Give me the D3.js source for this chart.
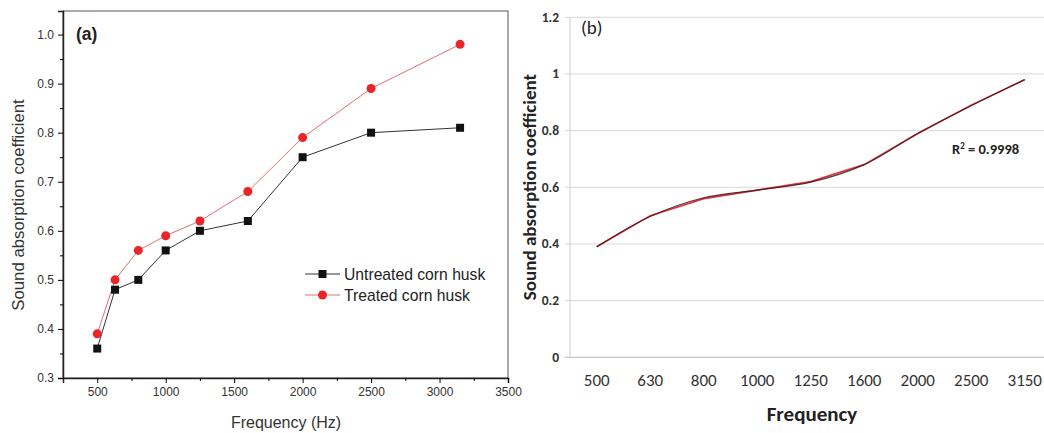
<!DOCTYPE html>
<html>
<head>
<meta charset="utf-8">
<script src="https://cdn.jsdelivr.net/npm/d3@7"></script>
<style>
  body { margin: 0; background: #fff; }
  svg { display: block; }
</style>
</head>
<body>
<svg id="chart" width="1044" height="433"></svg>
<script>
// data
const freqs = [500, 630, 800, 1000, 1250, 1600, 2000, 2500, 3150];
const untreated = [0.36, 0.48, 0.50, 0.56, 0.60, 0.62, 0.75, 0.80, 0.81];
const treated = [0.39, 0.50, 0.56, 0.59, 0.62, 0.68, 0.79, 0.89, 0.98];
const fitted = [0.39, 0.497, 0.563, 0.59, 0.618, 0.68, 0.79, 0.888, 0.98];
const xTicksA = [500, 1000, 1500, 2000, 2500, 3000, 3500];
const yTicksA = [0.3, 0.4, 0.5, 0.6, 0.7, 0.8, 0.9, 1.0];
const yTicksB = [0, 0.2, 0.4, 0.6, 0.8, 1, 1.2];
const legendNames = ["Untreated corn husk", "Treated corn husk"];

const svg = d3.select("#chart");

// ---------- panel (a) ----------
const a = {left: 63, right: 508, top: 11, bottom: 378};
const xA = d3.scaleLinear().domain([250, 3500]).range([a.left, a.right]);
const yA = d3.scaleLinear().domain([0.3, 1.048]).range([a.bottom, a.top]);
const gA = svg.append("g").attr("font-family", "Arial, 'Liberation Sans', sans-serif");

// frame
gA.append("rect")
  .attr("x", a.left).attr("y", a.top)
  .attr("width", a.right - a.left).attr("height", a.bottom - a.top)
  .attr("fill", "none").attr("stroke", "#555").attr("stroke-width", 1);

const xAxisA = d3.axisBottom(xA).tickValues(xTicksA).tickSize(5).tickPadding(4).tickFormat(d3.format("d"));
gA.append("g").attr("transform", `translate(0,${a.bottom})`).call(xAxisA)
  .call(g => g.select(".domain").attr("stroke", "#222").attr("stroke-width", 1.5))
  .call(g => g.selectAll("text").attr("font-size", 12).attr("fill", "#333").attr("font-family", null));
gA.append("g").attr("transform", `translate(0,${a.bottom})`)
  .call(d3.axisBottom(xA).tickValues(d3.range(750, 3500, 500)).tickSize(3).tickFormat(""))
  .call(g => g.select(".domain").remove());

const yAxisA = d3.axisLeft(yA).tickValues(yTicksA).tickSize(5).tickPadding(4).tickFormat(d3.format(".1f"));
gA.append("g").attr("transform", `translate(${a.left},0)`).call(yAxisA)
  .call(g => g.select(".domain").attr("stroke", "#222").attr("stroke-width", 1.5))
  .call(g => g.selectAll("text").attr("font-size", 12).attr("fill", "#333").attr("font-family", null));
gA.append("g").attr("transform", `translate(${a.left},0)`)
  .call(d3.axisLeft(yA).tickValues(d3.range(0.35, 1.04, 0.1)).tickSize(3).tickFormat(""))
  .call(g => g.select(".domain").remove());

const lineA = (vals) => d3.line().x((d, i) => xA(freqs[i])).y(d => yA(d))(vals);
gA.append("path").attr("d", lineA(untreated)).attr("fill", "none").attr("stroke", "#333").attr("stroke-width", 1);
gA.append("path").attr("d", lineA(treated)).attr("fill", "none").attr("stroke", "#e07070").attr("stroke-width", 1);

gA.selectAll(".sq").data(untreated).enter().append("rect")
  .attr("x", (d, i) => xA(freqs[i]) - 4).attr("y", d => yA(d) - 4)
  .attr("width", 8).attr("height", 8).attr("fill", "#111");
gA.selectAll(".dot").data(treated).enter().append("circle")
  .attr("cx", (d, i) => xA(freqs[i])).attr("cy", d => yA(d))
  .attr("r", 4.5).attr("fill", "#e8262a");

gA.append("text").attr("x", 76).attr("y", 40).attr("font-size", 17.5).attr("font-weight", "bold")
  .attr("fill", "#222").text("(a)");

// legend
const leg = gA.append("g");
legendNames.forEach((name, i) => {
  const y = 274 + i * 21;
  leg.append("line").attr("x1", 305).attr("x2", 340).attr("y1", y).attr("y2", y)
    .attr("stroke", i ? "#e07070" : "#333").attr("stroke-width", 1);
  if (i === 0) {
    leg.append("rect").attr("x", 318.5).attr("y", y - 4).attr("width", 8).attr("height", 8).attr("fill", "#111");
  } else {
    leg.append("circle").attr("cx", 322.5).attr("cy", y).attr("r", 4.5).attr("fill", "#e8262a");
  }
  leg.append("text").attr("x", 344).attr("y", y + 5.5).attr("font-size", 15.7).attr("fill", "#222").text(name);
});

gA.append("text").attr("x", 286).attr("y", 428)
  .attr("text-anchor", "middle").attr("font-size", 16).attr("fill", "#333").text("Frequency (Hz)");
gA.append("text").attr("transform", `translate(24,${205}) rotate(-90)`)
  .attr("text-anchor", "middle").attr("font-size", 16.8).attr("fill", "#333").text("Sound absorption coefficient");

// ---------- panel (b) ----------
const b = {left: 570, right: 1051.5, top: 17.3, bottom: 357.3};
const xB = d3.scalePoint().domain(freqs).range([b.left, b.right]).padding(0.5);
const yB = d3.scaleLinear().domain([0, 1.2]).range([b.bottom, b.top]);
const gB = svg.append("g").attr("font-family", "Carlito, Calibri, 'Open Sans', sans-serif");

gB.append("g").selectAll("line").data(yTicksB).enter().append("line")
  .attr("x1", b.left - 5).attr("x2", 1044)
  .attr("y1", d => yB(d)).attr("y2", d => yB(d))
  .attr("stroke", d => d === 0 ? "#bbb" : "#d9d9d9").attr("stroke-width", 1);
gB.append("line").attr("x1", b.left).attr("x2", b.left).attr("y1", b.top).attr("y2", b.bottom)
  .attr("stroke", "#ccc");

gB.append("g").selectAll("text").data(yTicksB).enter().append("text")
  .attr("x", 559).attr("y", d => yB(d) + 4.5).attr("text-anchor", "end")
  .attr("font-size", 13.5).attr("font-weight", "bold").attr("fill", "#333")
  .text(d => d3.format("")(d));

gB.append("g").selectAll("text").data(freqs).enter().append("text")
  .attr("x", d => xB(d)).attr("y", 386).attr("text-anchor", "middle")
  .attr("font-size", 17).attr("fill", "#333").text(d => d);

const lineB = d3.line().x((d, i) => xB(freqs[i])).y(d => yB(d));
gB.append("path").attr("d", lineB(treated)).attr("fill", "none").attr("stroke", "#e03040").attr("stroke-width", 1.6);
gB.append("path").attr("d", lineB.curve(d3.curveCatmullRom)(fitted)).attr("fill", "none")
  .attr("stroke", "#3a1818").attr("stroke-width", 1.2).attr("opacity", 0.85);

gB.append("text").attr("x", 581).attr("y", 34).attr("font-size", 19).attr("fill", "#222").text("(b)");

const r2 = gB.append("text").attr("x", 952).attr("y", 154).attr("font-size", 14.5)
  .attr("font-weight", "bold").attr("fill", "#222");
r2.append("tspan").text("R");
r2.append("tspan").attr("dy", -5).attr("font-size", 9).text("2");
r2.append("tspan").attr("dy", 5).text(" = 0.9998");

gB.append("text").attr("x", 812).attr("y", 421).attr("text-anchor", "middle")
  .attr("font-size", 21).attr("font-weight", "bold").attr("fill", "#222").text("Frequency");
gB.append("text").attr("transform", `translate(536,187) rotate(-90)`)
  .attr("text-anchor", "middle").attr("font-size", 19).attr("font-weight", "bold")
  .attr("fill", "#222").text("Sound absorption coefficient");
</script>
</body>
</html>
